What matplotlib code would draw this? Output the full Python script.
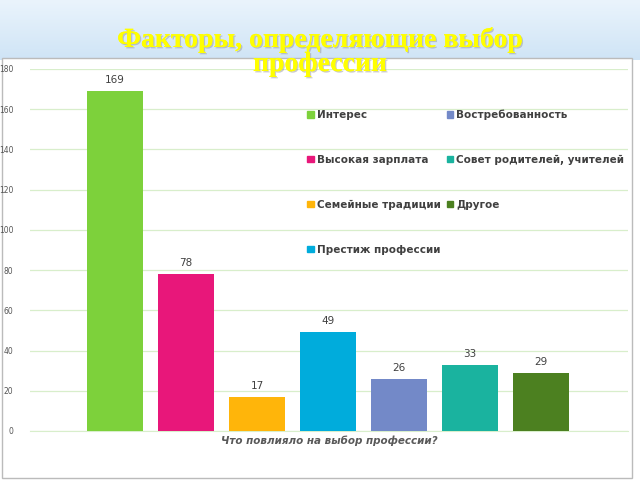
import matplotlib
matplotlib.use("Agg")
import matplotlib.pyplot as plt
import numpy as np
from matplotlib.patches import Rectangle, Patch
import matplotlib.patheffects as pe

categories = ["Интерес", "Высокая зарплата", "Семейные традиции", "Престиж профессии",
              "Востребованность", "Совет родителей, учителей", "Другое"]
values = [169, 78, 17, 49, 26, 33, 29]
colors = ["#7dd13b", "#e8177a", "#ffb50a", "#00acdc", "#7389c8", "#1ab39f", "#4c8020"]
yticks = [0, 20, 40, 60, 80, 100, 120, 140, 160, 180]
title = "Факторы, определяющие выбор\nпрофессии"
xlabel = "Что повлияло на выбор профессии?"

W, H = 640, 480
fig = plt.figure(figsize=(6.4, 4.8), dpi=100)

# background gradient top
bg = fig.add_axes([0, 0, 1, 1], zorder=-10)
grad = np.linspace(0, 1, 100).reshape(-1, 1)
from matplotlib.colors import LinearSegmentedColormap
cmap = LinearSegmentedColormap.from_list("g", ["#eaf4fc", "#cfe4f6"])
bg.imshow(grad, cmap=cmap, extent=[0, W, H - 60, H], aspect="auto")
bg.add_patch(Rectangle((2, 2), 630, H - 60, facecolor="white", edgecolor="#bbbbbb", lw=1))
bg.set_xlim(0, W); bg.set_ylim(0, H); bg.axis("off")

def fx(px): return px / W
def fy(py): return 1 - py / H

ax = fig.add_axes([fx(30), fy(431), fx(628) - fx(30), fy(69) - fy(431)])
ax.patch.set_alpha(0)
x = np.arange(len(values))
bars = ax.bar(x, values, width=0.78, color=colors, zorder=3)
for xi, v in zip(x, values):
    ax.text(xi, v + 3, str(v), ha="center", va="bottom", fontsize=7.5, color="#404040")
ax.set_xlim(-1.197, 7.225)
ax.set_ylim(0, 180)
ax.set_yticks(yticks)
ax.set_yticklabels([str(t) for t in yticks], fontsize=5.5, color="#555555")
ax.yaxis.grid(True, color="#d8eecb", lw=0.9, zorder=0)
ax.set_xticks([])
for s in ["top", "right", "left"]:
    ax.spines[s].set_visible(False)
ax.spines["bottom"].set_color("#d8eecb")
ax.tick_params(axis="y", length=0, pad=12)
ax.set_xlabel(xlabel, fontsize=7.5, fontweight="bold", fontstyle="italic", color="#595959", labelpad=3)

handles = [Patch(color=c) for c in colors]
leg = fig.legend(handles, categories, loc="upper left", bbox_to_anchor=(fx(298), fy(100)),
                 ncol=2, frameon=False, fontsize=7.5, handlelength=0.6, handleheight=0.6,
                 handletextpad=0.3, columnspacing=0.6, labelspacing=3.35)
for t in leg.get_texts():
    t.set_color("#404040"); t.set_fontweight("bold")

fig.text(0.5, fy(52), title, ha="center", va="center", fontsize=20, fontweight="bold",
         family="Liberation Serif", color="#ffff00", linespacing=0.95,
         path_effects=[pe.withSimplePatchShadow(offset=(1, -1), shadow_rgbFace="#999999", alpha=0.5), pe.Normal()])

fig.savefig("out.png", dpi=100)
